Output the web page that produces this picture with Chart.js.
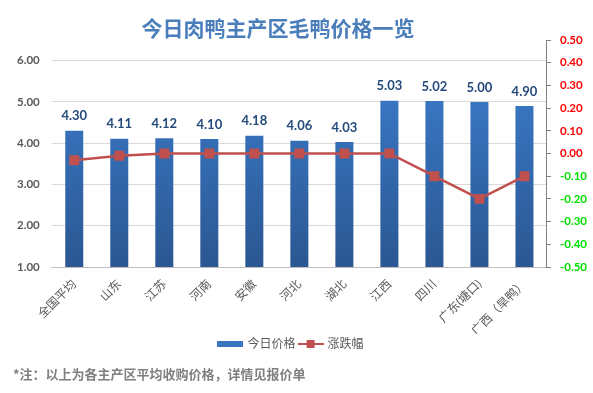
<!DOCTYPE html>
<html lang="zh">
<head>
    <meta charset="UTF-8">
    <title>今日肉鸭主产区毛鸭价格一览</title>
    <script src="https://cdn.jsdelivr.net/npm/chart.js"></script>
    <style>
        body {
            margin: 0;
            padding: 0;
            background: #ffffff;
            font-family: Lato, "Noto Sans CJK SC", sans-serif;
        }
        .wrap {
            position: relative;
            width: 593px;
            height: 393px;
        }
        .title {
            position: absolute;
            top: 13px;
            left: 0;
            width: 556px;
            text-align: center;
            font: bold 21px "Noto Sans CJK SC", sans-serif;
            color: #4a7ebb;
            line-height: 28px;
        }
        .note {
            position: absolute;
            left: 13px;
            top: 365px;
            font: bold 13px "Noto Sans CJK SC", sans-serif;
            color: #7f7f7f;
            line-height: 18px;
        }
    </style>
</head>
<body>
<div class="wrap">
    <div class="title">今日肉鸭主产区毛鸭价格一览</div>
    <canvas id="duckChart" width="593" height="393"></canvas>
    <div class="note">*注：以上为各主产区平均收购价格，详情见报价单</div>
</div>

<script>
    const regions = ['全国平均', '山东', '江苏', '河南', '安徽', '河北', '湖北', '江西', '四川', '广东(塘口)', '广西（旱鸭）'];
    const prices = [4.30, 4.11, 4.12, 4.10, 4.18, 4.06, 4.03, 5.03, 5.02, 5.00, 4.90];
    const changes = [-0.03, -0.01, 0.00, 0.00, 0.00, 0.00, 0.00, 0.00, -0.10, -0.20, -0.10];

    const cjk = 'Lato, "Noto Sans CJK SC", sans-serif';

    // legend swatches
    function swatchBar() {
        const c = document.createElement('canvas');
        c.width = 26; c.height = 6;
        const g = c.getContext('2d');
        g.fillStyle = '#3a74c0';
        g.fillRect(0, 0, 26, 6);
        return c;
    }
    function swatchLine() {
        const c = document.createElement('canvas');
        c.width = 26; c.height = 8;
        const g = c.getContext('2d');
        g.fillStyle = '#c0504d';
        g.fillRect(0, 3, 26, 2);
        g.fillRect(9, 0, 8, 8);
        return c;
    }

    const barLabels = {
        id: 'barLabels',
        afterLayout(chart) {
            // nudge legend a bit left, like the original
            chart.legend.left -= 9;
            chart.legend.right -= 9;
        },
        afterDatasetsDraw(chart) {
            const meta = chart.getDatasetMeta(0);
            const ctx = chart.ctx;
            ctx.save();
            ctx.font = 'bold 13px ' + cjk;
            ctx.fillStyle = '#244a7c';
            ctx.textAlign = 'center';
            ctx.textBaseline = 'bottom';
            meta.data.forEach((bar, i) => {
                ctx.fillText(prices[i].toFixed(2), bar.x, bar.y - 8);
            });
            ctx.restore();
        }
    };

    const ctx = document.getElementById('duckChart').getContext('2d');
    const duckChart = new Chart(ctx, {
        type: 'bar',
        data: {
            labels: regions,
            datasets: [{
                label: '今日价格',
                data: prices,
                yAxisID: 'y',
                order: 2,
                barPercentage: 0.8,
                categoryPercentage: 0.5,
                backgroundColor: function(context) {
                    const area = context.chart.chartArea;
                    if (!area) return '#3a74c0';
                    const grad = context.chart.ctx.createLinearGradient(0, area.top, 0, area.bottom);
                    grad.addColorStop(0, '#3d80d2');
                    grad.addColorStop(1, '#2b5792');
                    return grad;
                }
            }, {
                type: 'line',
                label: '涨跌幅',
                data: changes,
                yAxisID: 'y1',
                order: 1,
                borderColor: '#c0504d',
                borderWidth: 2.5,
                pointStyle: 'rect',
                pointRadius: 7,
                pointBackgroundColor: '#c0504d',
                pointBorderColor: '#c0504d',
                pointBorderWidth: 0,
                tension: 0
            }]
        },
        options: {
            responsive: false,
            animation: false,
            layout: {
                padding: { top: 40, left: 5, right: -3, bottom: 33 }
            },
            scales: {
                x: {
                    grid: { display: false },
                    border: { display: true, color: '#bfbfbf' },
                    ticks: {
                        color: '#595959',
                        font: { family: cjk, size: 12 },
                        maxRotation: 45,
                        minRotation: 45,
                        padding: 2
                    },
                    afterFit: function(scale) {
                        scale.height = 67;
                    }
                },
                y: {
                    position: 'left',
                    min: 1,
                    max: 6.5,
                    border: { display: false },
                    grid: { color: '#d9d9d9', drawTicks: false },
                    ticks: {
                        stepSize: 1,
                        includeBounds: false,
                        padding: 12,
                        color: '#595959',
                        font: { family: cjk, size: 11.5, weight: 'bold' },
                        callback: v => v.toFixed(2)
                    }
                },
                y1: {
                    position: 'right',
                    min: -0.5,
                    max: 0.5,
                    border: { display: true, color: '#808080' },
                    grid: { drawOnChartArea: false, drawTicks: true, tickLength: 4, color: '#808080' },
                    ticks: {
                        stepSize: 0.1,
                        padding: 9,
                        font: { family: cjk, size: 11.5, weight: 'bold' },
                        color: c => (c.tick.value > -0.001 ? '#ff0000' : '#00e000'),
                        callback: v => (Math.round(v * 100) / 100).toFixed(2).replace('-0.00', '0.00')
                    }
                }
            },
            plugins: {
                tooltip: { enabled: false },
                legend: {
                    display: true,
                    position: 'bottom',
                    labels: {
                        usePointStyle: true,
                        pointStyleWidth: 22,
                        boxHeight: 8,
                        padding: 4,
                        color: '#595959',
                        font: { family: cjk, size: 12 },
                        generateLabels: function(chart) {
                            const items = Chart.defaults.plugins.legend.labels.generateLabels(chart);
                            items.sort((a, b) => a.datasetIndex - b.datasetIndex);
                            items.forEach(it => {
                                it.pointStyle = it.datasetIndex === 0 ? swatchBar() : swatchLine();
                            });
                            return items;
                        }
                    }
                }
            }
        },
        plugins: [barLabels]
    });
</script>
</body>
</html>
